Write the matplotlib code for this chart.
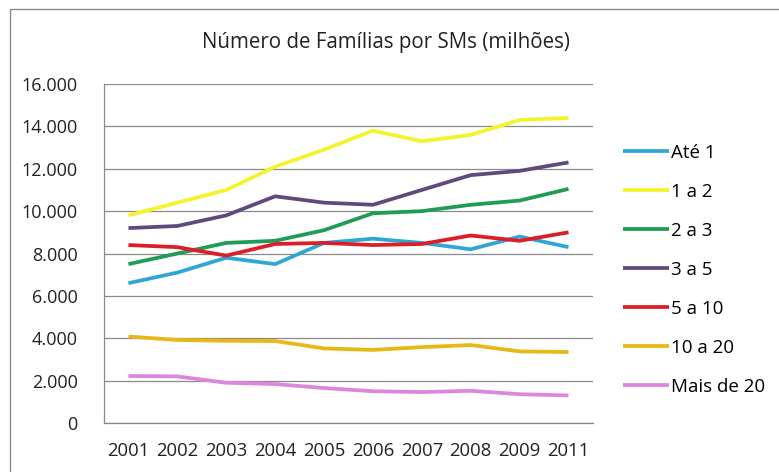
import matplotlib.pyplot as plt
from matplotlib.patches import Rectangle

# Dados (milhões de famílias por faixa de salários mínimos)
anos = ['2001', '2002', '2003', '2004', '2005', '2006', '2007', '2008', '2009', '2011']
ate_1 = [6600, 7100, 7800, 7500, 8500, 8700, 8500, 8200, 8800, 8300]
de_1_a_2 = [9800, 10400, 11000, 12100, 12900, 13800, 13300, 13600, 14300, 14400]
de_2_a_3 = [7500, 8000, 8500, 8600, 9100, 9900, 10000, 10300, 10500, 11050]
de_3_a_5 = [9200, 9300, 9800, 10700, 10400, 10300, 11000, 11700, 11900, 12300]
de_5_a_10 = [8400, 8300, 7900, 8450, 8500, 8400, 8450, 8850, 8600, 9000]
de_10_a_20 = [4080, 3920, 3880, 3870, 3520, 3450, 3580, 3680, 3380, 3350]
mais_de_20 = [2220, 2200, 1900, 1840, 1650, 1500, 1460, 1520, 1360, 1300]

series = ['Até 1', '1 a 2', '2 a 3', '3 a 5', '5 a 10', '10 a 20', 'Mais de 20']
valores = [ate_1, de_1_a_2, de_2_a_3, de_3_a_5, de_5_a_10, de_10_a_20, mais_de_20]
cores = ['#2fa6d6', '#f4f42c', '#1f9c55', '#5e4b7c', '#dc1e26', '#e6b914', '#dd86de']

plt.rcParams['font.family'] = ['Open Sans', 'DejaVu Sans']

fig = plt.figure(figsize=(7.79, 4.72), dpi=100)
ax = fig.add_axes([0.1335, 0.1038, 0.6277, 0.7182])

x = range(len(anos))
for nome, v, c in zip(series, valores, cores):
    ax.plot(x, v, color=c, lw=2.7, label=nome, solid_capstyle='butt')

ax.set_xlim(-0.5, len(anos) - 0.5)
ax.set_ylim(0, 16000)
yt = list(range(0, 16001, 2000))
ax.set_yticks(yt)
ax.set_yticklabels([f'{v:,}'.replace(',', '.') for v in yt], fontsize=13, color='#222222')
ax.set_xticks(list(x))
ax.set_xticklabels(anos, fontsize=13.3, color='#222222')
ax.tick_params(length=0)
ax.tick_params(axis='x', pad=14)
ax.tick_params(axis='y', pad=19)

ax.grid(axis='y', color='#8a8a8a', lw=0.9)
ax.set_axisbelow(True)
for s in ['top', 'right']:
    ax.spines[s].set_visible(False)
for s in ['left', 'bottom']:
    ax.spines[s].set_color('#8a8a8a')
    ax.spines[s].set_linewidth(0.9)

fig.text(0.496, 0.898, 'Número de Famílias por SMs (milhões)', ha='center', va='baseline',
         fontsize=14.8, color='#222222')

fig.legend(loc='center left', bbox_to_anchor=(0.7895, 0.428), frameon=False,
           fontsize=13.5, handlelength=2.5, handletextpad=0.1, labelspacing=1.12,
           borderaxespad=0)

# moldura externa do gráfico (só as bordas esquerda e superior aparecem)
fig.patches.append(Rectangle((0.0128, -0.1), 1.2, 1.081, transform=fig.transFigure,
                             fill=False, edgecolor='#8c8c8c', lw=1.0))

fig.savefig('out.png', dpi=100)
